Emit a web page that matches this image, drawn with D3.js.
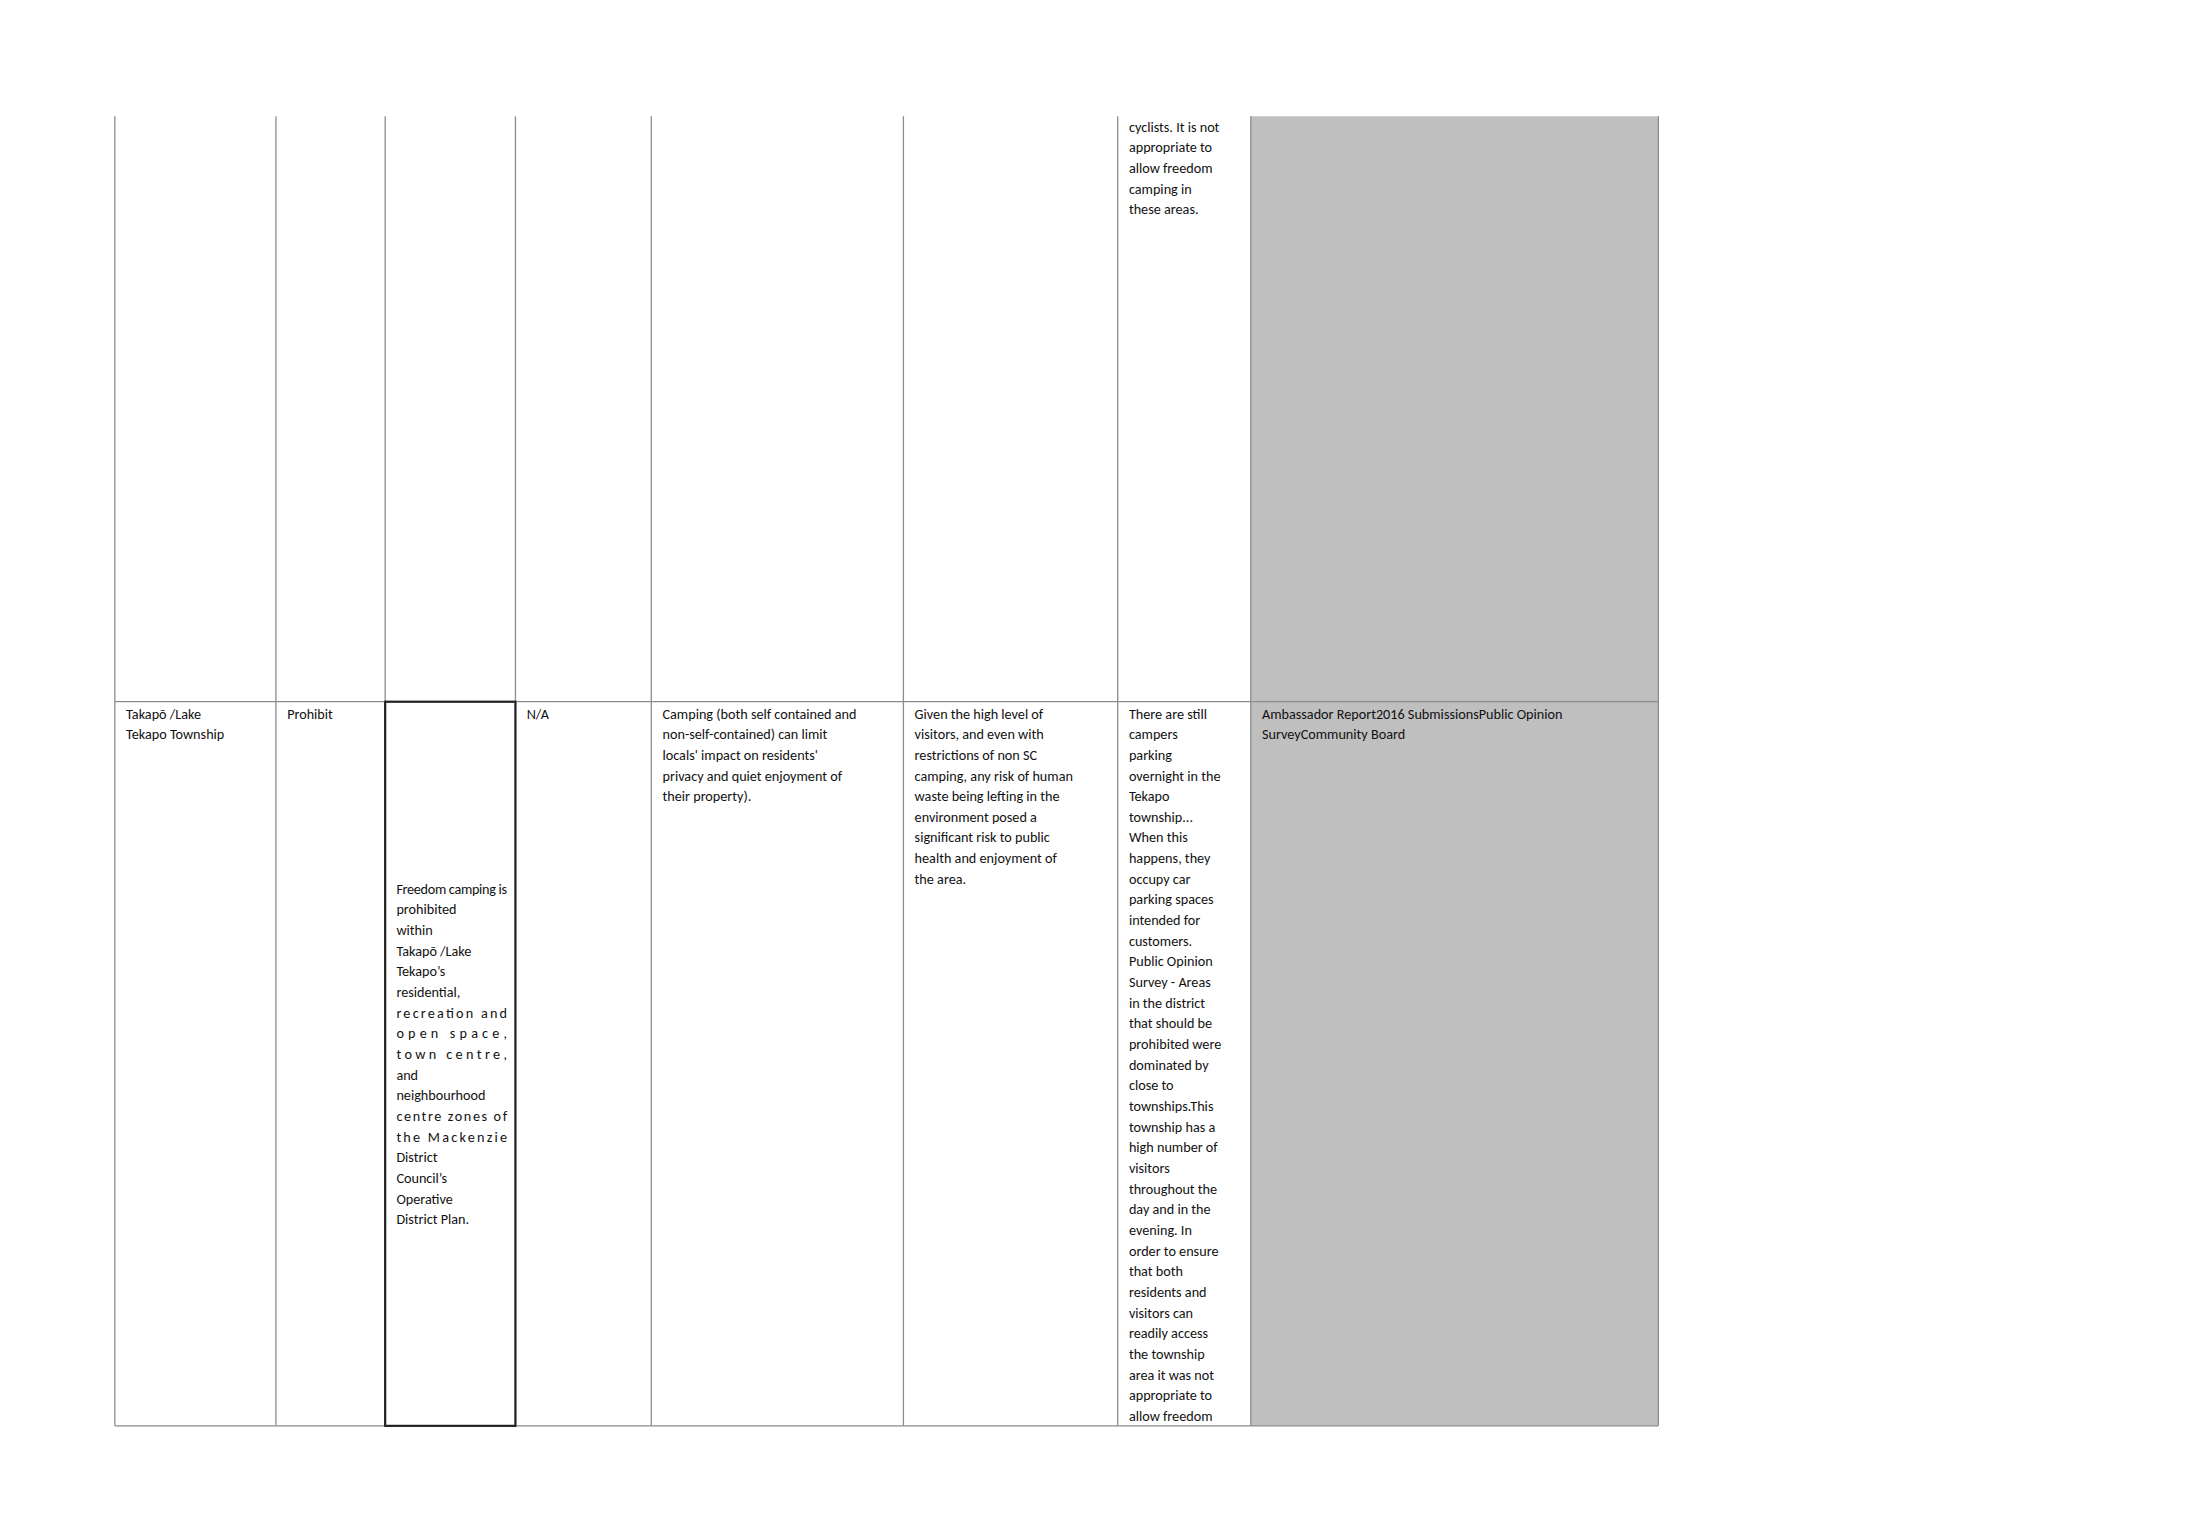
<!DOCTYPE html>
<html><head><meta charset="utf-8">
<script src="https://cdn.jsdelivr.net/npm/d3@7"></script>
<style>body{margin:0;background:#fff}</style></head>
<body><svg id="c" width="2185" height="1535"></svg>
<script>
const colEdges=[82,197,275,368,465,645,798,893,1184];
const rowEdges=[83,501,1018];
const topCol7=["cyclists.  It is not","appropriate to","allow freedom","camping in","these areas."];
const bottomCells=[
 ["Takapō /Lake","Tekapo Township"],
 ["Prohibit"],
 [],
 ["N/A"],
 ["Camping (both self contained and","non-self-contained) can limit","locals' impact on residents'","privacy and quiet enjoyment of","their property)."],
 ["Given the high level of","visitors, and even with","restrictions of non SC","camping, any risk of human","waste being lefting in the","environment posed a","significant risk to public","health and enjoyment of","the area."],
 ["There are still","campers","parking","overnight in the","Tekapo","township...","When this","happens, they","occupy car","parking spaces","intended for","customers.","Public Opinion","Survey - Areas","in the district","that should be","prohibited were","dominated by","close to","townships.This","township has a","high number of","visitors","throughout the","day and in the","evening.  In","order to ensure","that both","residents and","visitors can","readily access","the township","area it was not","appropriate to","allow freedom"],
 ["Ambassador Report2016 SubmissionsPublic Opinion","SurveyCommunity Board"]
];
const col3Lines=["Freedom camping is","prohibited","within","Takapō /Lake","Tekapo’s","residential,","recreation and","open space,","town centre,","and","neighbourhood","centre zones of","the Mackenzie","District","Council’s","Operative","District Plan."];
const col3Justify=[1,0,0,0,0,0,1,1,1,0,0,1,1,0,0,0,0];

const S=2185/1560;
const x=d3.scaleLinear().domain([0,1560]).range([0,1560*S]);
const y=d3.scaleLinear().domain([0,1560]).range([0,1560*S]);
const svg=d3.select("#c");
const font="Carlito, 'Liberation Sans Narrow', 'Open Sans Condensed', 'Liberation Sans', sans-serif";
const fs=14.2, lh=14.75;
// gray cells
svg.append("rect").attr("x",x(893)).attr("y",y(83)).attr("width",x(1184)-x(893)).attr("height",y(1018)-y(83)).attr("fill","#bfbfbf");
// grid
colEdges.forEach(c=>svg.append("line").attr("x1",x(c)).attr("x2",x(c)).attr("y1",y(83)).attr("y2",y(1018)).attr("stroke","#8c8c8c").attr("stroke-width",1.3));
rowEdges.slice(1).forEach(r=>svg.append("line").attr("x1",x(82)).attr("x2",x(1184)).attr("y1",y(r)).attr("y2",y(r)).attr("stroke","#8c8c8c").attr("stroke-width",1.3));
// thick cell
svg.append("rect").attr("x",x(275)).attr("y",y(501)).attr("width",x(368)-x(275)).attr("height",y(1018)-y(501)).attr("fill","none").attr("stroke","#222").attr("stroke-width",2.2);
function lines(arr,cx,by,just,w){
 arr.forEach((t,i)=>{
  const el=svg.append("text").attr("x",x(cx)).attr("y",y(by+i*lh)).attr("font-family",font).attr("font-size",fs).attr("fill","#111").text(t);
  if(just&&just[i]) el.attr("textLength",x(w)).attr("lengthAdjust","spacing");
 });
}
lines(topCol7,806,94);
bottomCells.forEach((c,i)=>lines(c,colEdges[i]+8,513));
lines(col3Lines,283,638,col3Justify,79);
</script></body></html>
